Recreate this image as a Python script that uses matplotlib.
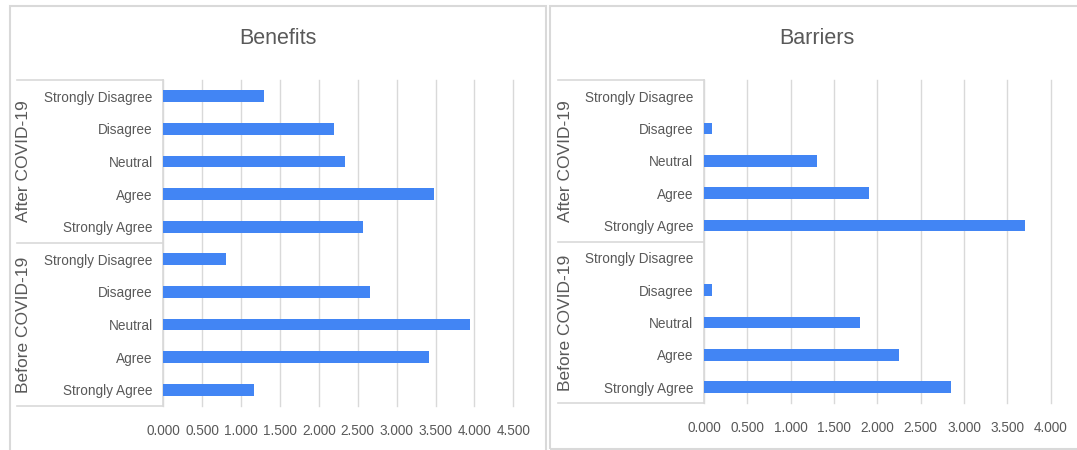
import matplotlib
matplotlib.use("Agg")
import matplotlib.pyplot as plt
from matplotlib.patches import Rectangle
from matplotlib.lines import Line2D
from matplotlib.ticker import FuncFormatter

# Survey response levels (top to bottom within each period)
levels = ["Strongly Disagree", "Disagree", "Neutral", "Agree", "Strongly Agree"]
periods = ["After COVID-19", "Before COVID-19"]

benefits_after = [1.29, 2.20, 2.34, 3.48, 2.57]
benefits_before = [0.80, 2.66, 3.94, 3.41, 1.17]

barriers_after = [0.0, 0.09, 1.30, 1.90, 3.70]
barriers_before = [0.0, 0.09, 1.80, 2.25, 2.85]

BAR = "#4285F4"
GRID = "#d9d9d9"
TXT = "#595959"
FONT = ["Liberation Sans", "DejaVu Sans"]

W, H = 1077, 450
fig = plt.figure(figsize=(W / 100, H / 100), dpi=100)
fig.patch.set_facecolor("white")


def px_rect(x0, y0, x1, y1):
    """Convert a pixel box (top-left origin) to figure fractions."""
    return [x0 / W, 1 - y1 / H, (x1 - x0) / W, (y1 - y0) / H]


def panel(rect, box_left_px, group_x_px, title, title_x_px, after, before, xmax):
    ax = fig.add_axes(px_rect(*rect))
    values = after + before
    n = len(values)
    ypos = list(range(n))
    ax.barh(ypos, values, height=0.36, color=BAR, zorder=3)
    ax.set_ylim(n - 0.5, -0.5)
    ax.set_xlim(0, xmax)
    ax.set_xticks([i * 0.5 for i in range(int(xmax / 0.5) + 1)])
    ax.xaxis.set_major_formatter(FuncFormatter(lambda v, p: f"{v:.3f}"))
    ax.set_yticks(ypos)
    ax.set_yticklabels(levels + levels)
    ax.tick_params(axis="both", length=0, colors=TXT, labelsize=9.8)
    ax.tick_params(axis="y", pad=7.6)
    ax.tick_params(axis="x", pad=13)
    for lab in ax.get_xticklabels() + ax.get_yticklabels():
        lab.set_family(FONT)
    ax.grid(axis="x", color=GRID, linewidth=1.0, zorder=0)
    for gl in ax.get_xgridlines():
        gl.set_clip_on(False)
    for s in ["top", "right", "bottom"]:
        ax.spines[s].set_visible(False)
    ax.spines["left"].set_color(GRID)
    ax.spines["left"].set_linewidth(1.2)

    # multi-level category box lines
    x0_ax = (box_left_px - rect[0]) / (rect[2] - rect[0])
    for yy in (0.0, 0.5, 1.0):
        ax.add_line(Line2D([x0_ax, 0], [yy, yy], transform=ax.transAxes,
                           color=GRID, linewidth=1.2, clip_on=False))
    gx = (group_x_px - rect[0]) / (rect[2] - rect[0])
    for i, name in enumerate(periods):
        ax.text(gx, 0.75 - 0.5 * i, name, transform=ax.transAxes, rotation=90,
                ha="center", va="center", color=TXT, fontsize=12.5, family=FONT)

    fig.text(title_x_px / W, 1 - 39 / H, title, ha="center", va="center",
             color=TXT, fontsize=15.5, family=FONT)
    return ax


panel((163.3, 80, 513.3, 406), 16.7, 24, "Benefits", 278,
      benefits_after, benefits_before, 4.5)
panel((704, 80, 1050.7, 403.3), 557.7, 566, "Barriers", 817,
      barriers_after, barriers_before, 4.0)

# chart-area borders
fig.patches.append(Rectangle((10 / W, 1 - 470 / H), 536 / W, 464 / H,
                             transform=fig.transFigure, fill=False,
                             edgecolor=GRID, linewidth=1.5))
fig.patches.append(Rectangle((550 / W, 1 - 449 / H), 560 / W, 443 / H,
                             transform=fig.transFigure, fill=False,
                             edgecolor=GRID, linewidth=1.5))

fig.savefig("out.png", dpi=100, facecolor="white")
